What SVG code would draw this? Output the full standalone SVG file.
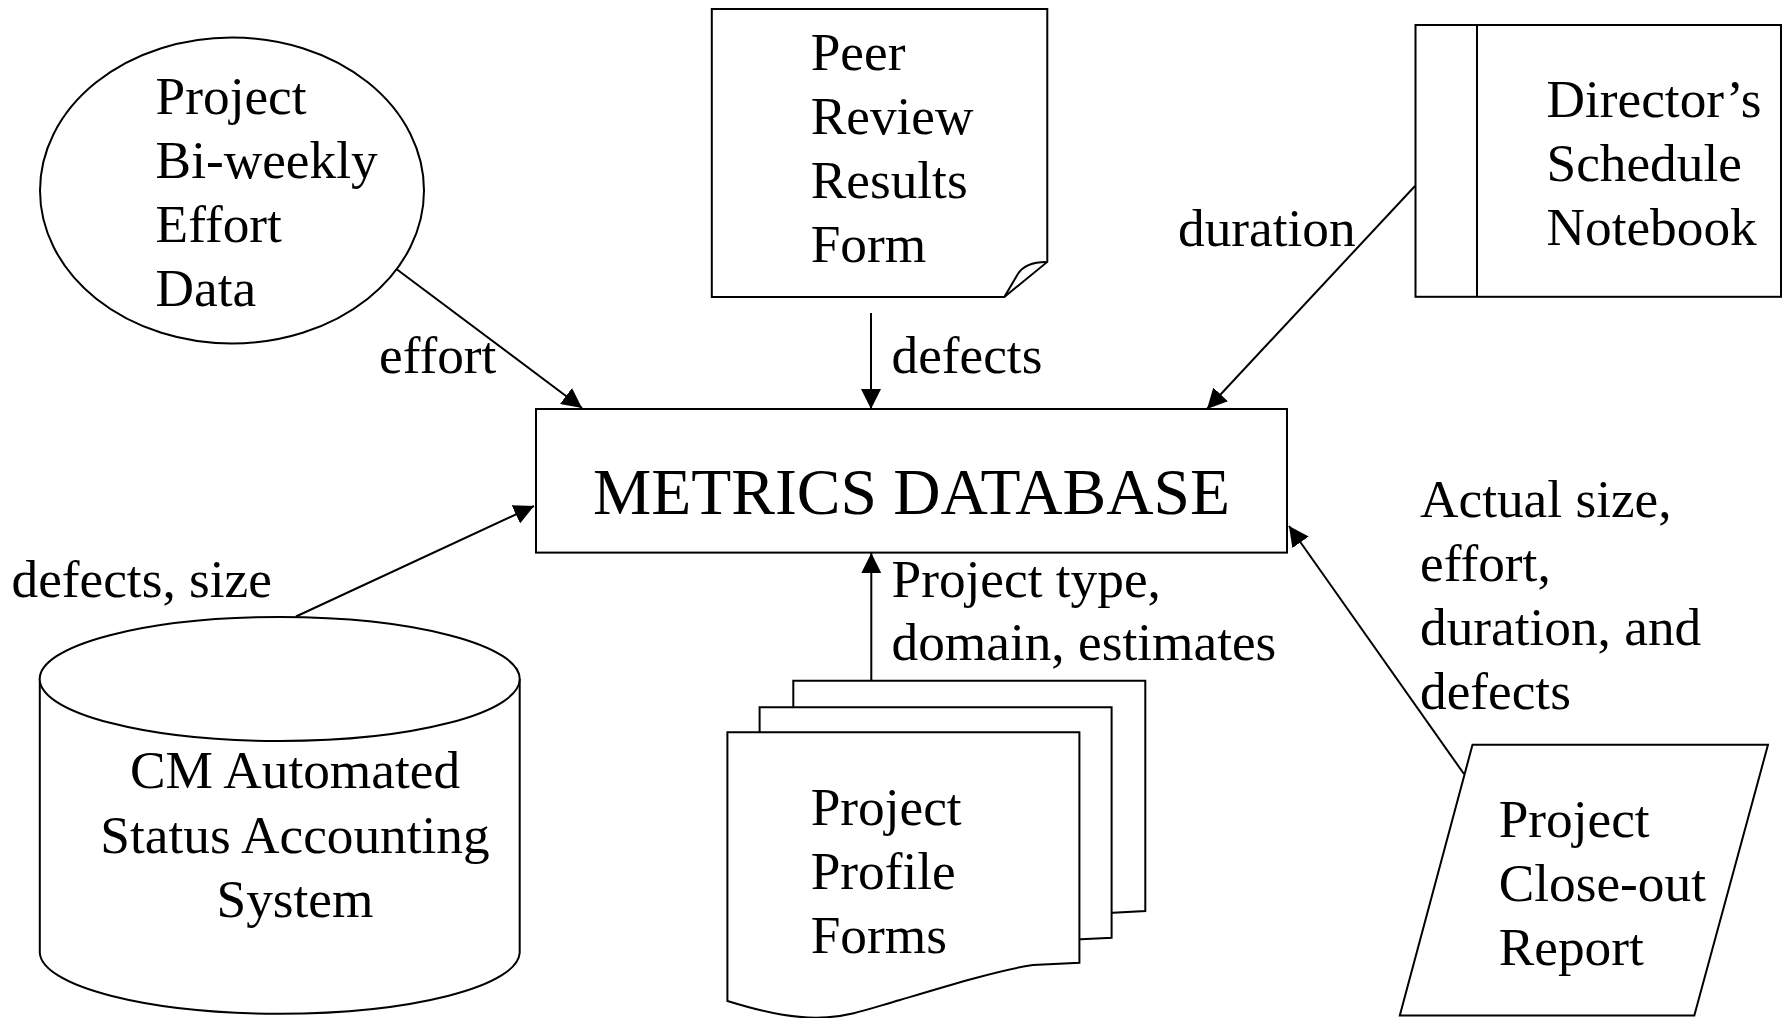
<svg xmlns="http://www.w3.org/2000/svg" width="1783" height="1018" viewBox="0 0 1783 1018">
<style>
.s{fill:#fff;stroke:#000;stroke-width:2}
.t{font-family:"Liberation Serif","Times New Roman",serif;font-size:53.3px;fill:#000}
.c{stroke:#000;stroke-width:2;fill:none}
</style>
<defs>
<marker id="ah" markerWidth="20" markerHeight="20" refX="20" refY="10" orient="auto" markerUnits="userSpaceOnUse"><path d="M0,0 L20,10 L0,20 z" fill="#000"/></marker>
<path id="page" d="M0,0 H352 V230.4 L305.6,232.7 C270,238 215,255 172.6,267.7 C140,277 125,283 100,285 C70,287 40,281 0,268.7 Z"/>
</defs>
<rect width="1783" height="1018" fill="#fff"/>
<g id="connectors">
<line class="c" x1="391" y1="265" x2="582" y2="408" marker-end="url(#ah)"/>
<line class="c" x1="871" y1="313" x2="871" y2="409" marker-end="url(#ah)"/>
<line class="c" x1="1415" y1="186" x2="1207" y2="409" marker-end="url(#ah)"/>
<line class="c" x1="296" y1="616.5" x2="534" y2="506" marker-end="url(#ah)"/>
<line class="c" x1="871.3" y1="680.7" x2="871.3" y2="553" marker-end="url(#ah)"/>
<line class="c" x1="1464" y1="774" x2="1289" y2="526" marker-end="url(#ah)"/>
<text class="t" x="379" y="373">effort</text>
<text class="t" x="891.5" y="373">defects</text>
<text class="t" x="1178" y="246">duration</text>
<text class="t" x="11.5" y="597">defects, size</text>
<text class="t" x="891.5" y="597">Project type,</text>
<text class="t" x="891.5" y="660">domain, estimates</text>
<text class="t" x="1420" y="517">Actual size,</text>
<text class="t" x="1420" y="581">effort,</text>
<text class="t" x="1420" y="645">duration, and</text>
<text class="t" x="1420" y="709">defects</text>
</g>
<g id="metrics-db">
<rect class="s" x="536" y="409" width="751" height="143.6"/>
<text class="t" x="911.5" y="514" text-anchor="middle" style="font-size:65.5px">METRICS DATABASE</text>
</g>
<g id="biweekly-effort">
<ellipse class="s" cx="232" cy="190.5" rx="192" ry="153"/>
<text class="t" x="155.6" y="114">Project</text>
<text class="t" x="155.6" y="178">Bi-weekly</text>
<text class="t" x="155.6" y="242">Effort</text>
<text class="t" x="155.6" y="306">Data</text>
</g>
<g id="peer-review">
<path class="s" d="M711.8,9.1 H1047.3 V261.9 L1004.3,297 H711.8 Z"/>
<path class="c" d="M1004.3,297 L1017.7,274.2 Q1025,262 1046.3,261.9"/>
<text class="t" x="810.7" y="70">Peer</text>
<text class="t" x="810.7" y="134">Review</text>
<text class="t" x="810.7" y="198">Results</text>
<text class="t" x="810.7" y="262">Form</text>
</g>
<g id="directors-notebook">
<rect class="s" x="1415.5" y="25" width="365.5" height="271.8"/>
<line class="c" x1="1477" y1="25" x2="1477" y2="296.8"/>
<text class="t" x="1546.5" y="117">Director’s</text>
<text class="t" x="1546.5" y="181">Schedule</text>
<text class="t" x="1546.5" y="245">Notebook</text>
</g>
<g id="cm-system">
<path class="s" d="M39.8,679 V953 A240,62 0 0 0 519.7,953 V679"/>
<ellipse class="s" cx="279.7" cy="679" rx="240" ry="62"/>
<text class="t" x="295" y="788" text-anchor="middle">CM Automated</text>
<text class="t" x="295" y="852.5" text-anchor="middle">Status Accounting</text>
<text class="t" x="295" y="916.5" text-anchor="middle">System</text>
</g>
<g id="profile-forms">
<use href="#page" class="s" transform="translate(793.3,680.7)"/>
<use href="#page" class="s" transform="translate(759.6,707.3)"/>
<use href="#page" class="s" transform="translate(727.4,732.3)"/>
<text class="t" x="810.7" y="825">Project</text>
<text class="t" x="810.7" y="889">Profile</text>
<text class="t" x="810.7" y="953">Forms</text>
</g>
<g id="closeout-report">
<path class="s" d="M1472.5,744.8 H1768 L1694.3,1015.4 H1399.8 Z"/>
<text class="t" x="1498.7" y="837">Project</text>
<text class="t" x="1498.7" y="901">Close-out</text>
<text class="t" x="1498.7" y="965">Report</text>
</g>
</svg>
